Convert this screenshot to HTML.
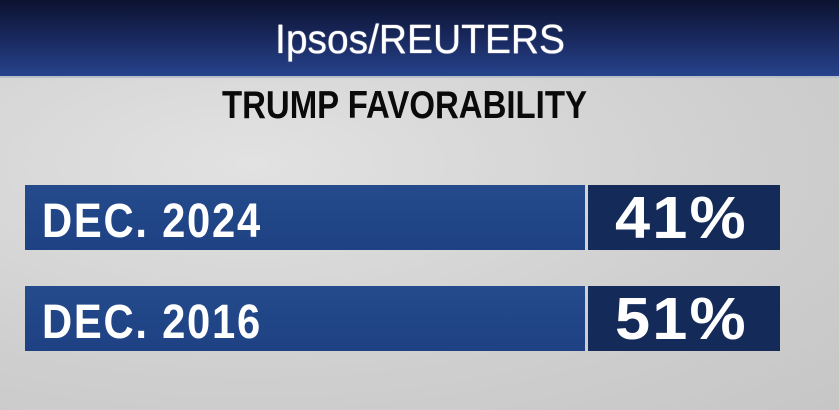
<!DOCTYPE html>
<html><head><style>
body{margin:0;width:839px;height:410px;overflow:hidden;position:relative;font-family:"Liberation Sans",sans-serif;
background:radial-gradient(ellipse at 30% 40%,#e2e2e2,#cfcfcf 60%,#c6c6c6);}
.hdr{position:absolute;left:0;top:0;width:839px;height:76px;background:linear-gradient(#0c1230,#1a2b62 55%,#26438c);border-bottom:2px solid #b9c0cc;}
.t{position:absolute;white-space:nowrap;transform-origin:0 0;}
.bar{position:absolute;left:25px;width:560px;height:65px;background:linear-gradient(#244b8c,#1e4183);}
.val{position:absolute;left:588px;width:192px;height:65px;background:#142a58;}
</style></head><body>
<div class="hdr"></div>
<div class="t" style="left:275px;top:16px;font-size:41px;color:#fff;transform:scaleX(0.95);text-shadow:0 0 1px #fff">Ipsos/REUTERS</div>
<div class="t" style="left:222px;top:84px;font-size:39px;font-weight:bold;color:#0a0a0a;transform:scaleX(0.845)">TRUMP FAVORABILITY</div>
<div class="bar" style="top:185px"></div><div class="val" style="top:185px"></div>
<div class="bar" style="top:286px"></div><div class="val" style="top:286px"></div>
<div class="t" style="left:42px;top:194px;font-size:48px;font-weight:bold;color:#fff;letter-spacing:2px;transform:scaleX(0.87)">DEC. 2024</div>
<div class="t" style="left:42px;top:295px;font-size:48px;font-weight:bold;color:#fff;letter-spacing:2px;transform:scaleX(0.87)">DEC. 2016</div>
<div class="t" style="left:615px;top:184px;font-size:59px;font-weight:bold;color:#fff;letter-spacing:2px;transform:scaleX(1.07)">41%</div>
<div class="t" style="left:615px;top:285px;font-size:59px;font-weight:bold;color:#fff;letter-spacing:2px;transform:scaleX(1.07)">51%</div>
</body></html>
